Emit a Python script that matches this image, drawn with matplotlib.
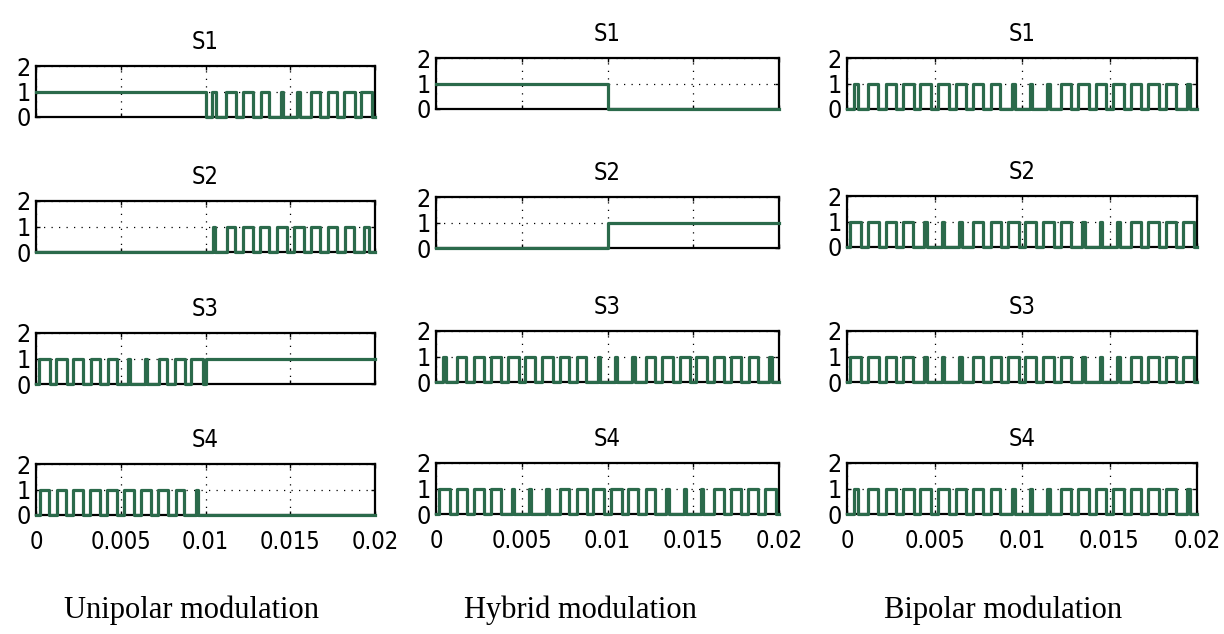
import matplotlib
matplotlib.use("Agg")
import matplotlib.pyplot as plt
from matplotlib import font_manager as fm

# time axis: 20 carrier periods over 0.02 s
t_end = 0.02
n_periods = 20
x_ticks = [0, 0.005, 0.01, 0.015, 0.02]
x_tick_labels = ["0", "0.005", "0.01", "0.015", "0.02"]
y_ticks = [0, 1, 2]
row_titles = ["S1", "S2", "S3", "S4"]
col_titles = ["Unipolar modulation", "Hybrid modulation", "Bipolar modulation"]

# duty ratio of each carrier period (on-time / period)
uni_s1 = [1, 1, 1, 1, 1, 1, 1, 1, 1, 1, 0.2, 0.55, 0.55, 0.5, 0.15, 0.15, 0.5, 0.55, 0.6, 0.65]
uni_s2 = [0, 0, 0, 0, 0, 0, 0, 0, 0, 0, 0.15, 0.5, 0.55, 0.55, 0.6, 0.6, 0.55, 0.55, 0.5, 0.3]
uni_s3 = [0.7, 0.6, 0.6, 0.55, 0.5, 0.15, 0.15, 0.5, 0.6, 0.7, 1, 1, 1, 1, 1, 1, 1, 1, 1, 1]
uni_s4 = [0.5, 0.55, 0.6, 0.6, 0.6, 0.6, 0.6, 0.55, 0.5, 0.15, 0, 0, 0, 0, 0, 0, 0, 0, 0, 0]

hyb_s1 = [1, 1, 1, 1, 1, 1, 1, 1, 1, 1, 0, 0, 0, 0, 0, 0, 0, 0, 0, 0]
hyb_s2 = [0, 0, 0, 0, 0, 0, 0, 0, 0, 0, 1, 1, 1, 1, 1, 1, 1, 1, 1, 1]
hyb_s3 = [0.2, 0.55, 0.6, 0.6, 0.65, 0.6, 0.6, 0.55, 0.5, 0.15, 0.1, 0.15, 0.55, 0.6, 0.6, 0.65, 0.6, 0.6, 0.55, 0.2]
hyb_s4 = [0.65, 0.6, 0.6, 0.55, 0.15, 0.1, 0.15, 0.55, 0.6, 0.65, 0.65, 0.6, 0.55, 0.15, 0.1, 0.15, 0.55, 0.6, 0.6, 0.65]

bip_s1 = [0.2, 0.55, 0.6, 0.6, 0.65, 0.6, 0.6, 0.55, 0.5, 0.15, 0.1, 0.15, 0.55, 0.6, 0.6, 0.65, 0.6, 0.6, 0.55, 0.2]
bip_s2 = [0.65, 0.6, 0.6, 0.55, 0.15, 0.1, 0.15, 0.55, 0.6, 0.65, 0.65, 0.6, 0.55, 0.15, 0.1, 0.15, 0.55, 0.6, 0.6, 0.65]
bip_s3 = [0.65, 0.6, 0.6, 0.55, 0.15, 0.1, 0.15, 0.55, 0.6, 0.65, 0.65, 0.6, 0.55, 0.15, 0.1, 0.15, 0.55, 0.6, 0.6, 0.65]
bip_s4 = [0.2, 0.55, 0.6, 0.6, 0.65, 0.6, 0.6, 0.55, 0.5, 0.15, 0.1, 0.15, 0.55, 0.6, 0.6, 0.65, 0.6, 0.6, 0.55, 0.2]

columns = [[uni_s1, uni_s2, uni_s3, uni_s4],
           [hyb_s1, hyb_s2, hyb_s3, hyb_s4],
           [bip_s1, bip_s2, bip_s3, bip_s4]]


def gate_trace(duty):
    # turn per-period duty ratios into a step trace, pulse centred in its period
    T = t_end / n_periods
    xs, ys = [], []
    for k, d in enumerate(duty):
        a, b = k * T, (k + 1) * T
        if d >= 1:
            xs += [a, b]; ys += [1, 1]
        elif d <= 0:
            xs += [a, b]; ys += [0, 0]
        else:
            c, h = (a + b) / 2, d * T / 2
            xs += [a, c - h, c - h, c + h, c + h, b]
            ys += [0, 0, 1, 1, 0, 0]
    return xs, ys


# narrow sans for the matlab-ish labels, if a condensed face is around
cond = fm.findfont(fm.FontProperties(family="DejaVu Sans", stretch="condensed"))
if "Condensed" in cond:
    lab_font = dict(family="DejaVu Sans", fontstretch="condensed")
else:
    lab_font = dict(family="Liberation Sans")
lab_size = 17

W, H = 1224, 634
fig = plt.figure(figsize=(W / 100, H / 100), dpi=100)

col_x = [(36, 375), (436, 779), (847, 1197)]
col_tops = [[66, 201, 333, 464], [58, 197, 331, 463], [58, 196, 331, 463]]
ax_h = 51
caption_x = [192, 580, 1003]
green = "#2b6a4b"

for ci, col in enumerate(columns):
    x0, x1 = col_x[ci]
    for ri, duty in enumerate(col):
        top = col_tops[ci][ri]
        ax = fig.add_axes([x0 / W, 1 - (top + ax_h) / H, (x1 - x0) / W, ax_h / H])
        xs, ys = gate_trace(duty)
        ax.plot(xs, ys, color=green, lw=2.3, clip_on=False, zorder=3)
        ax.set_xlim(0, t_end)
        ax.set_ylim(0, 2)
        ax.set_xticks(x_ticks)
        ax.set_yticks(y_ticks)
        ax.set_yticklabels([str(v) for v in y_ticks], fontsize=lab_size + 1, **lab_font)
        if ri == 3:
            ax.set_xticklabels(x_tick_labels, fontsize=lab_size, **lab_font)
        else:
            ax.set_xticklabels([])
        ax.tick_params(direction="in", top=True, right=True, length=3, width=1)
        ax.tick_params(axis="x", pad=11)
        ax.tick_params(axis="y", pad=4)
        ax.grid(True, color="k", linestyle=(0, (1, 5)), linewidth=0.9)
        for s in ax.spines.values():
            s.set_linewidth(1.6)
        ax.set_title(row_titles[ri], fontsize=lab_size, pad=12, **lab_font)
    fig.text(caption_x[ci] / W, 1 - 610 / H, col_titles[ci], ha="center", va="center",
             fontsize=22, family="Liberation Serif")

fig.savefig("out.png", dpi=100)
